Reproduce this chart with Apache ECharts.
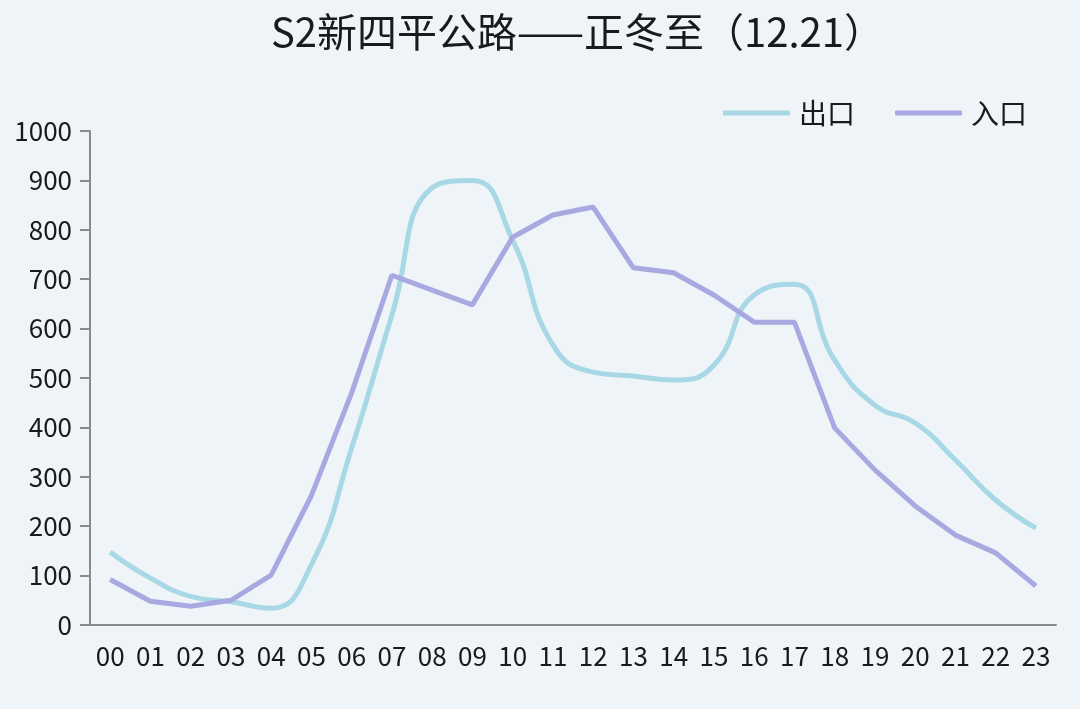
<!DOCTYPE html>
<html>
<head>
<meta charset="utf-8">
<script src="https://cdn.jsdelivr.net/npm/echarts@6/dist/echarts.min.js"></script>
<style>
html,body{margin:0;padding:0;background:#eef4f7;}
#c{width:1080px;height:709px;}
</style>
</head>
<body>
<div id="c"></div>
<script>
var hours = ['00','01','02','03','04','05','06','07','08','09','10','11','12','13','14','15','16','17','18','19','20','21','22','23'];
var exitValues = [148, 95, 58, 47, 34, 122, 358, 627, 885, 900, 779, 567, 512, 504, 496, 526, 668, 690, 536, 445, 409, 334, 253, 196];
var entryValues = [92, 48, 38, 50, 101, 262, 470, 708, 678, 648, 785, 830, 846, 723, 713, 668, 613, 613, 399, 314, 241, 182, 146, 79];
var yTicks = [0, 1000, 100];

var font = '"Noto Sans CJK SC", sans-serif';
var chart = echarts.init(document.getElementById('c'));
chart.setOption({
  backgroundColor: '#eef4f7',
  animation: false,
  title: {
    text: 'S2新四平公路——正冬至（12.21）',
    left: 266, top: 7,
    textStyle: {fontFamily: font, fontSize: 40, fontWeight: 'normal', color: '#1a1a1a'}
  },
  legend: {
    right: 48, top: 94,
    itemWidth: 67, itemHeight: 5, itemGap: 40,
    icon: 'roundRect',
    textStyle: {fontFamily: font, fontSize: 28, color: '#1a1a1a', padding: [0, 0, 0, 4]},
    data: ['出口', '入口']
  },
  grid: {left: 90, right: 24, top: 131, bottom: 84},
  xAxis: {
    type: 'category',
    data: hours,
    boundaryGap: true,
    axisLine: {lineStyle: {color: '#8a8a8a', width: 2}},
    axisTick: {length: 10, lineStyle: {color: '#8a8a8a', width: 2}},
    axisLabel: {fontFamily: font, fontSize: 26, color: '#1a1a1a', margin: 18, interval: 0}
  },
  yAxis: {
    type: 'value',
    min: yTicks[0], max: yTicks[1], interval: yTicks[2],
    splitLine: {show: false},
    axisLine: {show: true, lineStyle: {color: '#8a8a8a', width: 2}},
    axisTick: {show: true, length: 10, lineStyle: {color: '#8a8a8a', width: 2}},
    axisLabel: {fontFamily: font, fontSize: 26, color: '#1a1a1a', margin: 18,
      formatter: function (v) { return String(v); }}
  },
  series: [
    {
      name: '出口', type: 'line', data: exitValues, smooth: true,
      symbol: 'none',
      lineStyle: {color: '#a8d8e6', width: 5},
      itemStyle: {color: '#a8d8e6'}
    },
    {
      name: '入口', type: 'line', data: entryValues, smooth: false,
      symbol: 'none',
      lineStyle: {color: '#aaa8e0', width: 5},
      itemStyle: {color: '#aaa8e0'}
    }
  ]
});
</script>
</body>
</html>
